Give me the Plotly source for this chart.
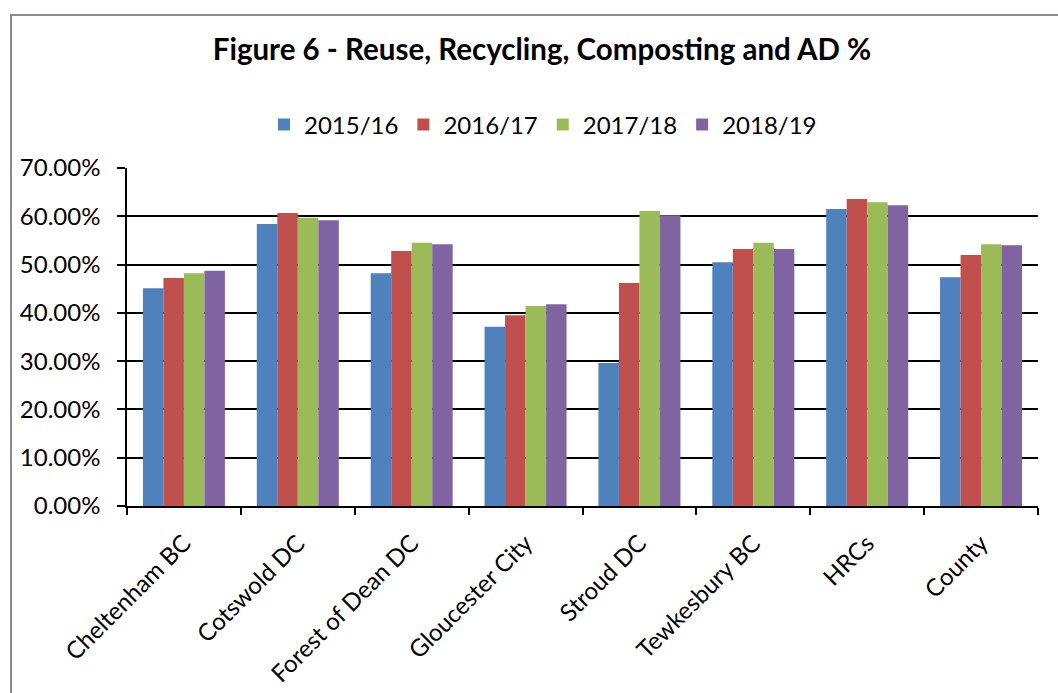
import plotly.graph_objects as go

categories = ["Cheltenham BC", "Cotswold DC", "Forest of Dean DC", "Gloucester City",
              "Stroud DC", "Tewkesbury BC", "HRCs", "County"]
series_names = ["2015/16", "2016/17", "2017/18", "2018/19"]
v_2015 = [0.451, 0.584, 0.482, 0.371, 0.296, 0.505, 0.615, 0.474]
v_2016 = [0.472, 0.607, 0.528, 0.395, 0.462, 0.532, 0.636, 0.520]
v_2017 = [0.482, 0.597, 0.545, 0.414, 0.611, 0.545, 0.629, 0.542]
v_2018 = [0.487, 0.592, 0.542, 0.418, 0.602, 0.532, 0.623, 0.540]
colors = ["#4F81BD", "#C0504D", "#9BBB59", "#8064A2"]
y_ticks = [0, 0.1, 0.2, 0.3, 0.4, 0.5, 0.6, 0.7]

FONT = "Lato"
W, H = 1058, 693
L, R, T, B = 127, 20, 168, 187

fig = go.Figure()
for name, vals, c in zip(series_names, [v_2015, v_2016, v_2017, v_2018], colors):
    fig.add_trace(go.Bar(name=name, x=categories, y=vals, marker=dict(color=c, line=dict(width=0))))

pw = W - L - R
ph = H - T - B
def px_to_paper_x(px):
    return (px - L) / pw
def px_to_paper_y(py):
    return (H - B - py) / ph

fig.update_layout(
    width=W, height=H,
    margin=dict(l=L, r=R, t=T, b=B, autoexpand=False),
    paper_bgcolor="white", plot_bgcolor="white",
    barmode="group", bargap=0.28, bargroupgap=0,
    font=dict(family=FONT, color="black", size=24),
    title=dict(text="<b>Figure 6 - Reuse, Recycling, Composting and AD %</b>",
               x=542 / W, xanchor="center", xref="container",
               y=1 - 50 / H, yanchor="middle", yref="container",
               font=dict(family=FONT, size=29.5, color="black")),
    legend=dict(orientation="h", x=543 / W, xanchor="center", xref="container",
                y=1 - 125 / H, yanchor="middle", yref="container",
                font=dict(family=FONT, size=24), itemwidth=30,
                bgcolor="rgba(0,0,0,0)"),
    showlegend=True,
    xaxis=dict(showline=True, linecolor="black", linewidth=1.5,
               ticks="outside", ticklen=7, tickcolor="black", tickwidth=1.5,
               tickson="boundaries", tickangle=-45, ticklabelstandoff=12,
               tickfont=dict(family=FONT, size=24), showgrid=False),
    yaxis=dict(range=[0, 0.7], tickvals=y_ticks, tickformat=".2%",
               showline=True, linecolor="black", linewidth=1.5,
               ticks="outside", ticklen=8, tickcolor="black", tickwidth=1.5,
               ticklabelstandoff=12,
               showgrid=True, gridcolor="black", gridwidth=1.8,
               zeroline=False, tickfont=dict(family=FONT, size=24)),
    shapes=[dict(type="rect", xref="paper", yref="paper",
                 x0=px_to_paper_x(11), x1=px_to_paper_x(1100),
                 y0=px_to_paper_y(760), y1=px_to_paper_y(15),
                 line=dict(color="#8C8C8C", width=2), fillcolor="rgba(0,0,0,0)",
                 layer="below")],
)

fig.write_html("out.html", config={"displayModeBar": False},
               post_script="document.body.style.margin='0';document.body.style.overflow='hidden';")
